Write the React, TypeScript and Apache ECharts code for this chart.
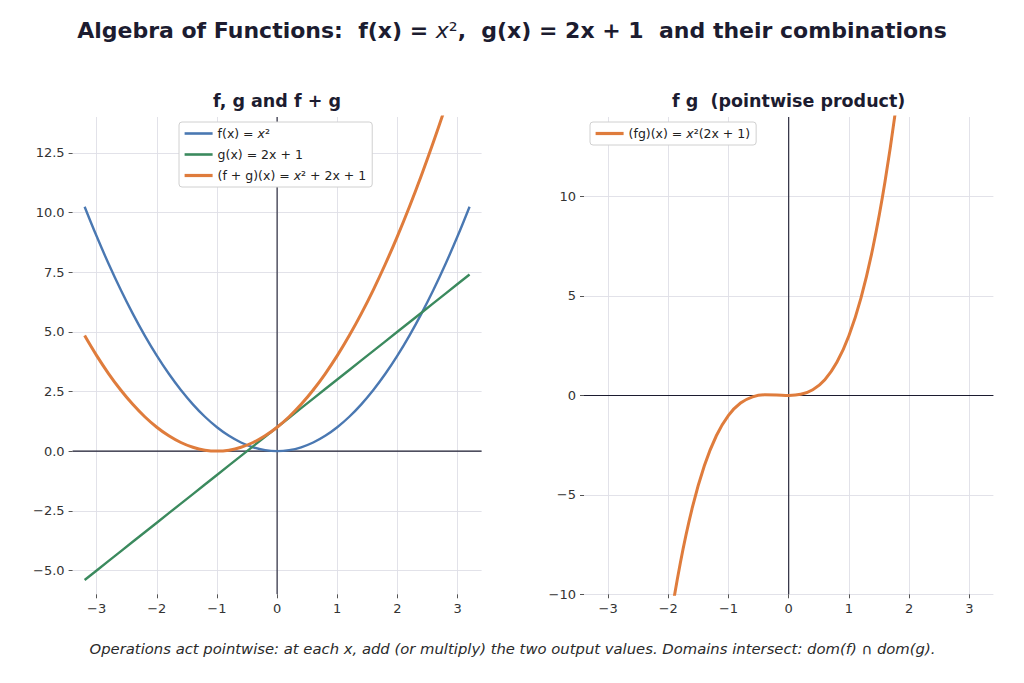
import { useEffect, useRef } from "react";
import * as echarts from "echarts";

// sampled x positions (step 0.2) for the left panel curves
const X_SAMPLES = [
  -3.2, -3.0, -2.8, -2.6, -2.4, -2.2, -2.0, -1.8, -1.6, -1.4, -1.2, -1.0, -0.8, -0.6, -0.4, -0.2,
  0, 0.2, 0.4, 0.6, 0.8, 1.0, 1.2, 1.4, 1.6, 1.8, 2.0, 2.2, 2.4, 2.6, 2.8, 3.0, 3.2,
];
const F_VALUES = [
  10.24, 9.0, 7.84, 6.76, 5.76, 4.84, 4.0, 3.24, 2.56, 1.96, 1.44, 1.0, 0.64, 0.36, 0.16, 0.04,
  0, 0.04, 0.16, 0.36, 0.64, 1.0, 1.44, 1.96, 2.56, 3.24, 4.0, 4.84, 5.76, 6.76, 7.84, 9.0, 10.24,
];
const G_VALUES = [
  -5.4, -5.0, -4.6, -4.2, -3.8, -3.4, -3.0, -2.6, -2.2, -1.8, -1.4, -1.0, -0.6, -0.2, 0.2, 0.6,
  1.0, 1.4, 1.8, 2.2, 2.6, 3.0, 3.4, 3.8, 4.2, 4.6, 5.0, 5.4, 5.8, 6.2, 6.6, 7.0, 7.4,
];
const SUM_VALUES = [
  4.84, 4.0, 3.24, 2.56, 1.96, 1.44, 1.0, 0.64, 0.36, 0.16, 0.04, 0, 0.04, 0.16, 0.36, 0.64,
  1.0, 1.44, 1.96, 2.56, 3.24, 4.0, 4.84, 5.76, 6.76, 7.84, 9.0, 10.24, 11.56, 12.96, 14.44, 16.0, 17.64,
];

// right panel: product, only the part that is on screen
const PROD_X = [
  -2.2, -2.0, -1.8, -1.6, -1.4, -1.2, -1.0, -0.8, -0.6, -0.4, -0.2,
  0, 0.2, 0.4, 0.6, 0.8, 1.0, 1.2, 1.4, 1.6, 1.8, 2.0,
];
const PROD_VALUES = [
  -16.456, -12.0, -8.424, -5.632, -3.528, -2.016, -1.0, -0.384, -0.072, 0.032, 0.024,
  0, 0.056, 0.288, 0.792, 1.664, 3.0, 4.896, 7.448, 10.752, 14.904, 20.0,
];

const X_TICKS = [-3, -2, -1, 0, 1, 2, 3];
const LEFT_Y_TICKS = [-5, -2.5, 0, 2.5, 5, 7.5, 10, 12.5];
const RIGHT_Y_TICKS = [-10, -5, 0, 5, 10];

const X_RANGE = [-3.4, 3.4];
const LEFT_Y_RANGE = [-6, 14];
const RIGHT_Y_RANGE = [-10, 14];

const BLUE = "#4a78b2";
const GREEN = "#3b8a5e";
const ORANGE = "#df7c3c";
const INK = "#1c1c30";
const FONT = "DejaVu Sans";

const minus = (s: string) => s.replace("-", "\u2212");
const pairs = (xs: number[], ys: number[]) => xs.map((x, i) => [x, ys[i]]);

const legendRich = {
  i: { fontStyle: "italic", fontSize: 12.5, fontFamily: FONT, color: "#222" },
};

const LEGEND_TEXT: Record<string, string> = {
  f: "f(x) = {i|x}²",
  g: "g(x) = 2x + 1",
  sum: "(f + g)(x) = {i|x}² + 2x + 1",
  prod: "(fg)(x) = {i|x}²(2x + 1)",
};

function axisCommon(ticks: number[], fmt: (v: number) => string) {
  return {
    type: "value" as const,
    axisLine: { show: false, onZero: false },
    axisTick: { show: true, customValues: ticks, length: 4, lineStyle: { color: "#555", width: 1 } },
    axisLabel: {
      customValues: ticks,
      formatter: (v: number) => fmt(v),
      color: "#333",
      fontSize: 13,
      fontFamily: FONT,
      margin: 8,
    },
    splitLine: { show: true, lineStyle: { color: "#dfdfe6", width: 0.9 } },
  };
}

function legendBox(items: { name: string; color: string; width: number }[], left: number) {
  return {
    data: items.map((it) => ({ name: it.name, lineStyle: { color: it.color, width: it.width } })),
    orient: "vertical" as const,
    left,
    top: 122,
    padding: [5, 6, 5, 4],
    itemGap: 8,
    itemWidth: 28,
    itemHeight: 14,
    backgroundColor: "#ffffff",
    borderColor: "#d0d0d0",
    borderWidth: 1,
    borderRadius: 3,
    itemStyle: { opacity: 0 },
    formatter: (name: string) => LEGEND_TEXT[name],
    textStyle: { fontSize: 12.5, fontFamily: FONT, color: "#222", rich: legendRich },
  };
}

export default function App() {
  const chartRef = useRef<HTMLDivElement>(null);

  useEffect(() => {
    if (!chartRef.current) return;
    const chart = echarts.init(chartRef.current, null, { renderer: "svg" });

    const lineBase = {
      type: "line" as const,
      showSymbol: false,
      symbol: "none",
      clip: true,
      z: 3,
    };
    const zeroLine = {
      type: "line" as const,
      symbol: "none",
      silent: true,
      z: 1,
      lineStyle: { color: INK, width: 1.1 },
    };

    chart.setOption({
      animation: false,
      backgroundColor: "#ffffff",
      textStyle: { fontFamily: FONT },
      grid: [
        { left: 72.6, top: 117, width: 409, height: 477.3, outerBoundsMode: "none" },
        { left: 584, top: 117, width: 409.4, height: 477.3, outerBoundsMode: "none" },
      ],
      xAxis: [
        { ...axisCommon(X_TICKS, (v) => minus(String(v))), gridIndex: 0, min: X_RANGE[0], max: X_RANGE[1] },
        { ...axisCommon(X_TICKS, (v) => minus(String(v))), gridIndex: 1, min: X_RANGE[0], max: X_RANGE[1] },
      ],
      yAxis: [
        {
          ...axisCommon(LEFT_Y_TICKS, (v) => minus(v.toFixed(1))),
          gridIndex: 0,
          min: LEFT_Y_RANGE[0],
          max: LEFT_Y_RANGE[1],
        },
        {
          ...axisCommon(RIGHT_Y_TICKS, (v) => minus(String(v))),
          gridIndex: 1,
          min: RIGHT_Y_RANGE[0],
          max: RIGHT_Y_RANGE[1],
        },
      ],
      legend: [
        legendBox(
          [
            { name: "f", color: BLUE, width: 2.6 },
            { name: "g", color: GREEN, width: 2.6 },
            { name: "sum", color: ORANGE, width: 3.2 },
          ],
          179
        ),
        legendBox([{ name: "prod", color: ORANGE, width: 3.2 }], 590),
      ],
      graphic: [
        {
          type: "text",
          x: 512,
          y: 30,
          style: {
            text: "Algebra of Functions:  f(x) = {i|x}{s|²},  g(x) = 2x + 1  and their combinations",
            align: "center",
            verticalAlign: "middle",
            fontSize: 22,
            fontWeight: "bold",
            fontFamily: FONT,
            fill: INK,
            rich: {
              i: { fontStyle: "italic", fontWeight: "normal", fontSize: 22, fontFamily: FONT, fill: INK },
              s: { fontWeight: "normal", fontSize: 22, fontFamily: FONT, fill: INK },
            },
          },
        },
        {
          type: "text",
          x: 277,
          y: 101,
          style: {
            text: "f, g and f + g",
            align: "center",
            verticalAlign: "middle",
            fontSize: 17.5,
            fontWeight: "bold",
            fontFamily: FONT,
            fill: INK,
          },
        },
        {
          type: "text",
          x: 788.7,
          y: 101,
          style: {
            text: "f g  (pointwise product)",
            align: "center",
            verticalAlign: "middle",
            fontSize: 17.5,
            fontWeight: "bold",
            fontFamily: FONT,
            fill: INK,
          },
        },
        {
          type: "text",
          x: 512.5,
          y: 648,
          style: {
            text: "Operations act pointwise: at each x, add (or multiply) the two output values. Domains intersect: dom(f) \u2229 dom(g).",
            align: "center",
            verticalAlign: "middle",
            fontSize: 14.8,
            fontStyle: "italic",
            fontFamily: FONT,
            fill: "#2a2a2a",
          },
        },
      ],
      series: [
        { ...zeroLine, xAxisIndex: 0, yAxisIndex: 0, data: [[0, LEFT_Y_RANGE[0]], [0, LEFT_Y_RANGE[1]]] },
        { ...zeroLine, xAxisIndex: 0, yAxisIndex: 0, data: [[X_RANGE[0], 0], [X_RANGE[1], 0]] },
        { ...zeroLine, xAxisIndex: 1, yAxisIndex: 1, data: [[0, RIGHT_Y_RANGE[0]], [0, RIGHT_Y_RANGE[1]]] },
        { ...zeroLine, xAxisIndex: 1, yAxisIndex: 1, data: [[X_RANGE[0], 0], [X_RANGE[1], 0]] },
        {
          ...lineBase,
          name: "f",
          xAxisIndex: 0,
          yAxisIndex: 0,
          smooth: 0.4,
          data: pairs(X_SAMPLES, F_VALUES),
          itemStyle: { color: BLUE },
          lineStyle: { color: BLUE, width: 2.4 },
        },
        {
          ...lineBase,
          name: "g",
          xAxisIndex: 0,
          yAxisIndex: 0,
          data: pairs(X_SAMPLES, G_VALUES),
          itemStyle: { color: GREEN },
          lineStyle: { color: GREEN, width: 2.4 },
        },
        {
          ...lineBase,
          name: "sum",
          xAxisIndex: 0,
          yAxisIndex: 0,
          smooth: 0.4,
          data: pairs(X_SAMPLES, SUM_VALUES),
          itemStyle: { color: ORANGE },
          lineStyle: { color: ORANGE, width: 3 },
        },
        {
          ...lineBase,
          name: "prod",
          xAxisIndex: 1,
          yAxisIndex: 1,
          smooth: 0.4,
          data: pairs(PROD_X, PROD_VALUES),
          itemStyle: { color: ORANGE },
          lineStyle: { color: ORANGE, width: 3 },
        },
      ],
    });

    return () => {
      chart.dispose();
    };
  }, []);

  return (
    <div
      ref={chartRef}
      style={{ position: "absolute", left: 0, top: 0, width: 1024, height: 683 }}
    />
  );
}
